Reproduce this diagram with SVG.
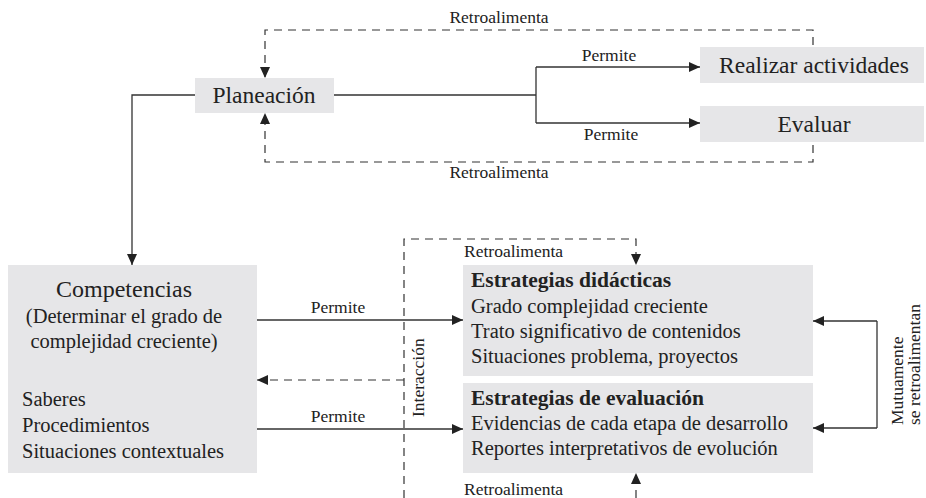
<svg xmlns="http://www.w3.org/2000/svg" width="926" height="498" viewBox="0 0 926 498">
<style>
.box{fill:#e6e6e8;stroke:none}
.t{font-family:"Liberation Serif","Times New Roman",serif;fill:#222}
.big{font-size:23.5px}
.mid{font-size:20.5px}
.lab{font-size:17.5px}
.b{font-weight:bold}
.ln{fill:none;stroke:#333;stroke-width:1.3}
.ds{fill:none;stroke:#333;stroke-width:1.2;stroke-dasharray:8 6}
</style>
<defs>
<marker id="ah" markerUnits="userSpaceOnUse" markerWidth="12" markerHeight="10" refX="11" refY="5" orient="auto">
<path d="M0,0 L11,5 L0,10 Z" fill="#222"/>
</marker>
</defs>
<rect width="926" height="498" fill="#fff"/>
<g id="connectors">
<path class="ln" d="M334,95 H536 M536,67 V123"/>
<path class="ln" d="M536,67 H700" marker-end="url(#ah)"/>
<path class="ln" d="M536,123 H700" marker-end="url(#ah)"/>
<path class="ln" d="M195,95 H132 V265" marker-end="url(#ah)"/>
<path class="ds" d="M813,45 V30 H265 V78" marker-end="url(#ah)"/>
<path class="ds" d="M813,145 V162 H265 V113" marker-end="url(#ah)"/>
<text class="t lab" x="499" y="23" text-anchor="middle">Retroalimenta</text>
<text class="t lab" x="499" y="178" text-anchor="middle">Retroalimenta</text>
<text class="t lab" x="609" y="61" text-anchor="middle">Permite</text>
<text class="t lab" x="611" y="140" text-anchor="middle">Permite</text>
<path class="ln" d="M257,320 H463" marker-end="url(#ah)"/>
<path class="ln" d="M257,429 H463" marker-end="url(#ah)"/>
<text class="t lab" x="338" y="313" text-anchor="middle">Permite</text>
<text class="t lab" x="338" y="422" text-anchor="middle">Permite</text>
<path class="ds" d="M404,380 H257" marker-end="url(#ah)"/>
<path class="ds" d="M404,498 V239 H636 V265" marker-end="url(#ah)"/>
<path class="ds" d="M636,498 V473" marker-end="url(#ah)"/>
<text class="t lab" x="464" y="257">Retroalimenta</text>
<text class="t lab" x="464" y="495">Retroalimenta</text>
<text class="t lab" transform="translate(424,417) rotate(-90)">Interacción</text>
<path class="ln" d="M877,321 V428"/>
<path class="ln" d="M877,321 H813" marker-end="url(#ah)"/>
<path class="ln" d="M877,428 H813" marker-end="url(#ah)"/>
<text class="t lab" transform="translate(903,425) rotate(-90)">Mutuamente</text>
<text class="t lab" transform="translate(920,425) rotate(-90)">se retroalimentan</text>
</g>
<g id="planeacion">
<rect class="box" x="195" y="78" width="139" height="35"/>
<text class="t big" x="264" y="103" text-anchor="middle">Planeación</text>
</g>
<g id="realizar">
<rect class="box" x="700" y="47" width="224" height="36"/>
<text class="t big" x="814" y="73" text-anchor="middle">Realizar actividades</text>
</g>
<g id="evaluar">
<rect class="box" x="700" y="106" width="224" height="36"/>
<text class="t big" x="814" y="132" text-anchor="middle">Evaluar</text>
</g>
<g id="competencias">
<rect class="box" x="8" y="265" width="249" height="208"/>
<text class="t" font-size="24" x="124" y="297" text-anchor="middle">Competencias</text>
<text class="t mid" x="124" y="323" text-anchor="middle">(Determinar el grado de</text>
<text class="t mid" x="124" y="348" text-anchor="middle">complejidad creciente)</text>
<text class="t mid" x="22" y="406">Saberes</text>
<text class="t mid" x="22" y="432">Procedimientos</text>
<text class="t mid" x="22" y="458">Situaciones contextuales</text>
</g>
<g id="estrategias-didacticas">
<rect class="box" x="463" y="265" width="350" height="111"/>
<text class="t b" font-size="21.5" x="471" y="287">Estrategias didácticas</text>
<text class="t mid" x="471" y="313">Grado complejidad creciente</text>
<text class="t mid" x="471" y="338">Trato significativo de contenidos</text>
<text class="t mid" x="471" y="363">Situaciones problema, proyectos</text>
</g>
<g id="estrategias-evaluacion">
<rect class="box" x="463" y="383" width="350" height="90"/>
<text class="t b" font-size="21.5" x="471" y="405">Estrategias de evaluación</text>
<text class="t mid" x="471" y="430">Evidencias de cada etapa de desarrollo</text>
<text class="t mid" x="471" y="455">Reportes interpretativos de evolución</text>
</g>
</svg>
